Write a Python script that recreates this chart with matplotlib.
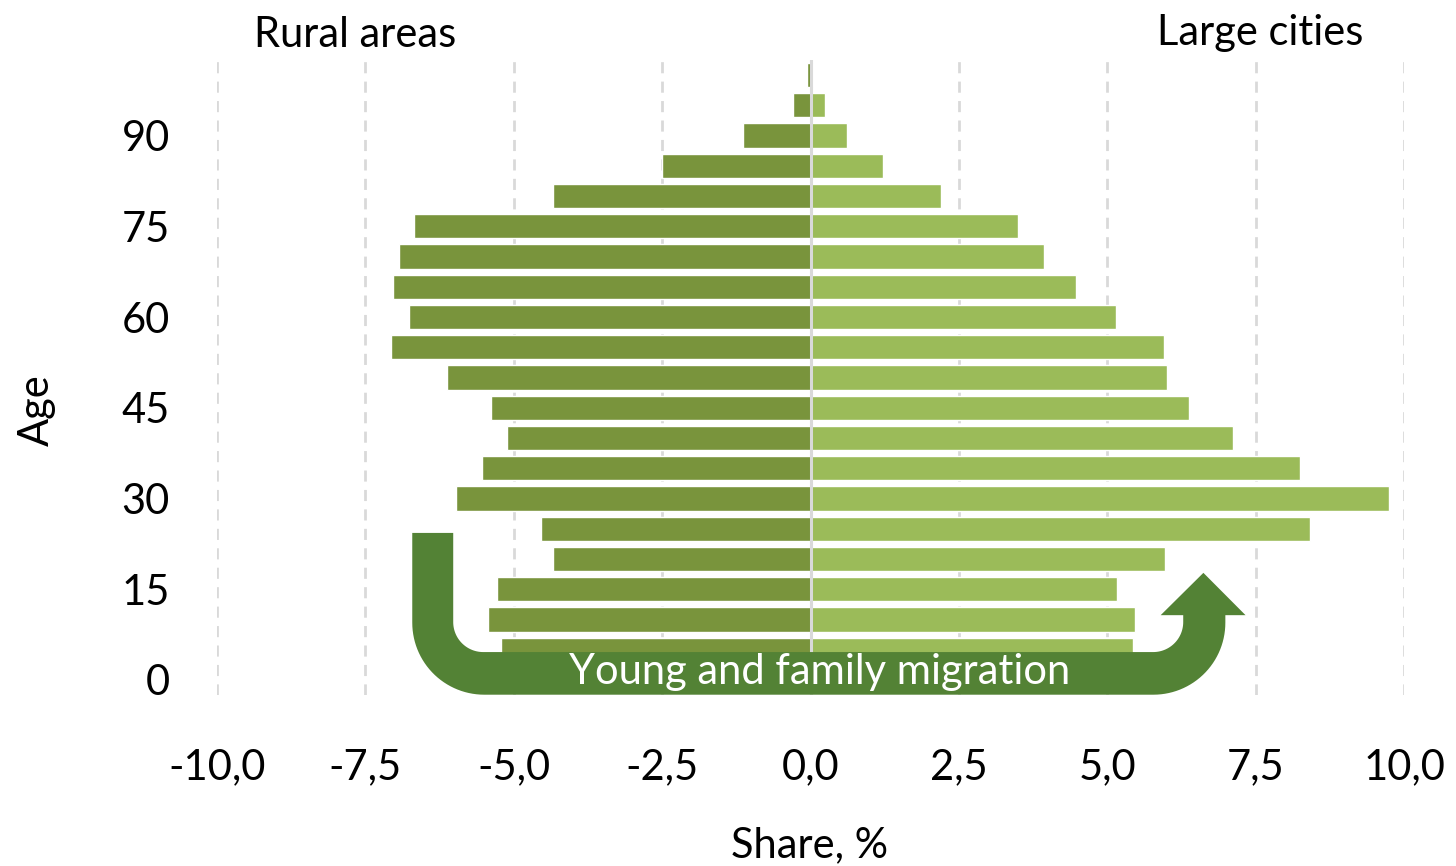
import numpy as np
import matplotlib.pyplot as plt
from matplotlib.path import Path
from matplotlib.patches import PathPatch

plt.rcParams['font.family'] = ['Lato', 'DejaVu Sans']

# age groups (lower bound) and shares, %
ages = [0, 5, 10, 15, 20, 25, 30, 35, 40, 45, 50, 55, 60, 65, 70, 75, 80, 85, 90, 95, 100]
rural = [-4.9, -5.21, -5.43, -5.28, -4.34, -4.54, -5.98, -5.53, -5.11, -5.39, -6.12,
         -7.07, -6.76, -7.04, -6.93, -6.68, -4.34, -2.51, -1.14, -0.30, -0.06]
cities = [5.1, 5.44, 5.47, 5.16, 5.97, 8.41, 9.75, 8.24, 7.12, 6.38, 6.00,
          5.96, 5.15, 4.48, 3.93, 3.50, 2.20, 1.22, 0.62, 0.24, 0.05]

x_ticks = [-10, -7.5, -5, -2.5, 0, 2.5, 5, 7.5, 10]
y_ticks = [0, 15, 30, 45, 60, 75, 90]

FS = 30
W, H = 1456, 866
fig = plt.figure(figsize=(W / 100, H / 100), dpi=100)
ax = fig.add_axes([217 / W, 1 - 695 / H, (1404 - 217) / W, (695 - 60) / H])

ax.barh(ages, rural, height=4.0, color='#79943C', edgecolor='white', linewidth=1, zorder=2)
ax.barh(ages, cities, height=4.0, color='#9BBB59', edgecolor='white', linewidth=1, zorder=2)

for v in x_ticks:
    if v == 0:
        ax.axvline(0, color='#D9D9D9', lw=2.2, zorder=3)
    else:
        ax.axvline(v, color='#D9D9D9', lw=2.0, ls=(0, (4, 3)), zorder=1)

ax.set_xlim(-10, 10)
ax.set_ylim(-2.5, 102.5)
ax.set_xticks(x_ticks)
ax.set_xticklabels([f"{v:.1f}".replace('.', ',') for v in x_ticks])
ax.set_yticks(y_ticks)
ax.tick_params(axis='x', length=0, pad=38, labelsize=FS)
ax.tick_params(axis='y', length=0, pad=34, labelsize=FS)
for s in ax.spines.values():
    s.set_visible(False)

fig.text(37 / W, 1 - 410 / H, 'Age', rotation=90, ha='center', va='center', fontsize=FS)
fig.text(810 / W, 1 - 845 / H, 'Share, %', ha='center', va='center', fontsize=FS)
fig.text(355 / W, 1 - 35 / H, 'Rural areas', ha='center', va='center', fontsize=FS)
fig.text(1260 / W, 1 - 33 / H, 'Large cities', ha='center', va='center', fontsize=FS)

# U-shaped migration arrow, anchors in data units, corners built in pixels
to_px = ax.transData.transform
xl_out, xl_in = to_px((-6.71, 0))[0], to_px((-6.02, 0))[0]
xr_in, xr_out = to_px((6.28, 0))[0], to_px((6.99, 0))[0]
hx_l, hx_r, hx_t = to_px((5.90, 0))[0], to_px((7.33, 0))[0], to_px((6.62, 0))[0]
y_top = to_px((0, 24.3))[1]
y_bot = to_px((0, -2.45))[1]
y_in = to_px((0, 4.6))[1]
y_base = to_px((0, 10.7))[1]
y_tip = to_px((0, 17.7))[1]
R, r = 72, 30


def arc(cx, cy, rad, a0, a1, n=30):
    t = np.linspace(np.radians(a0), np.radians(a1), n)
    return list(zip(cx + rad * np.cos(t), cy + rad * np.sin(t)))


verts = [(xl_out, y_top)]
verts += arc(xl_out + R, y_bot + R, R, 180, 270)
verts += arc(xr_out - R, y_bot + R, R, 270, 360)
verts += [(xr_out, y_base), (hx_r, y_base), (hx_t, y_tip), (hx_l, y_base), (xr_in, y_base)]
verts += arc(xr_in - r, y_in + r, r, 0, -90)
verts += arc(xl_in + r, y_in + r, r, 270, 180)
verts += [(xl_in, y_top), (xl_out, y_top)]
codes = [Path.MOVETO] + [Path.LINETO] * (len(verts) - 2) + [Path.CLOSEPOLY]
arrow = PathPatch(Path(verts, codes), facecolor='#538235', edgecolor='none',
                  transform=None, zorder=5)
fig.add_artist(arrow)

fig.text(820 / W, 1 - 672 / H, 'Young and family migration', color='white', fontsize=FS,
         ha='center', va='center', zorder=6)

fig.savefig('out.png', dpi=100)
